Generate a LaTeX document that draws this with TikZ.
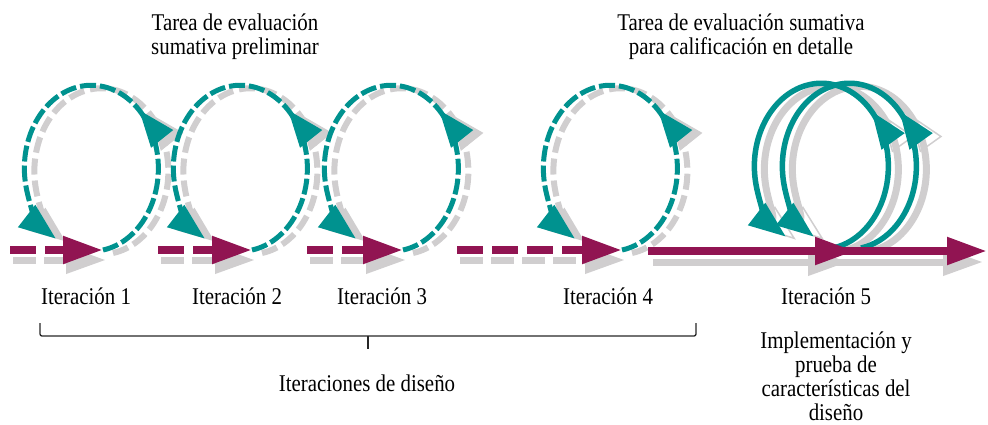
\documentclass[tikz,border=0pt]{standalone}
\usepackage{fontspec}
\setmainfont{Liberation Serif}[FakeStretch=0.87]
\usetikzlibrary{arrows.meta,decorations.markings}

\definecolor{tealc}{RGB}{0,146,143}
\definecolor{plum}{RGB}{145,20,82}
\definecolor{ashgray}{RGB}{208,206,207}

\begin{document}
\begin{tikzpicture}[x=1pt,y=1pt,
  txt/.style={inner sep=0pt,font=\fontsize{24}{24}\selectfont,align=center},
  loophead/.style={-{Triangle[length=37pt,width=27pt]}},
  loopmid/.style={postaction={decorate,decoration={markings,
      mark=at position #1 with {\arrow{Triangle[length=37pt,width=27pt]}}}}},
  loopd/.style={tealc,line width=5pt,dash pattern=on 16pt off 4pt,loophead},
  loopsh/.style={ashgray,line width=6pt,dash pattern=on 16pt off 6pt,loophead},
  loopfull/.style={tealc,line width=5.5pt,loophead},
  loopfullsh/.style={ashgray,line width=7pt,-{Triangle[open,length=37pt,width=27pt,line width=1.5pt]},
      postaction={decorate,decoration={markings,
      mark=at position #1 with {\arrow{Triangle[open,length=37pt,width=27pt,line width=1.5pt]}}}}},
  flowhead/.style={-{Triangle[length=40pt,width=26pt]}},
  flowmid/.style={postaction={decorate,decoration={markings,
      mark=at position #1 with {\arrow{Triangle[length=40pt,width=26pt]}}}}},
  flowd/.style={plum,line width=8pt,dash pattern=on 26pt off 9pt,flowhead},
  flowsh/.style={ashgray,line width=7pt,dash pattern=on 23pt off 8pt,flowhead},
  flows/.style={plum,line width=8pt,flowhead},
  flowssh/.style={ashgray,line width=7pt,flowhead},
  bracket/.style={draw=black!85,line width=1.3pt,rounded corners=2pt}]

\useasboundingbox (0,0) rectangle (988,-424);

% start and bottom points of the design iterations
\foreach \i/\sx/\bx in {1/10/103, 2/158/252, 3/307/403, 4/457/622} {
  \coordinate (s\i) at (\sx,-250);
  \coordinate (b\i) at (\bx,-250);
}
\coordinate (s5) at (648,-251);
\coordinate (e5) at (987,-251);
\coordinate (a5) at (833,-248);
\coordinate (c5) at (861,-248);

% shadows
\foreach \i in {1,...,4} {
  \draw[loopsh,loopmid=0.40] ([shift={(10,-3)}]b\i) arc[start angle=-80,end angle=238,x radius=67,y radius=83];
  \draw[flowsh] ([shift={(3,-10)}]s\i) -- ([shift={(3,-10)}]b\i);
}
\draw[loopfullsh=0.39] ([shift={(10,-3)}]a5) arc[start angle=-80,end angle=238,x radius=67,y radius=83];
\draw[loopfullsh=0.39] ([shift={(10,-3)}]c5) arc[start angle=-80,end angle=238,x radius=67,y radius=83];
\draw[flowssh,postaction={decorate,decoration={markings,
      mark=at position 195pt with {\arrow{Triangle[length=40pt,width=26pt]}}}}]
  ([shift={(5,-11)}]s5) -- ([shift={(-4,-11)}]e5);

% loops
\foreach \i in {1,...,4}
  \draw[loopd,loopmid=0.40] (b\i) arc[start angle=-80,end angle=238,x radius=67,y radius=83];
\draw[loopfull,loopmid=0.39] (a5) arc[start angle=-80,end angle=238,x radius=67,y radius=83];
\draw[loopfull,loopmid=0.39] (c5) arc[start angle=-80,end angle=238,x radius=67,y radius=83];

% main flow
\foreach \i in {1,...,4}
  \draw[flowd] (s\i) -- (b\i);
\draw[flows,flowmid=207pt] (s5) -- (e5);

% labels
\node[txt] (task1) at (235,-37) {Tarea de evaluación\\sumativa preliminar};
\node[txt] (task2) at (741,-37) {Tarea de evaluación sumativa\\para calificación en detalle};

\node[txt,anchor=base] (it1) at (86,-304)  {Iteración 1};
\node[txt,anchor=base] (it2) at (237,-304) {Iteración 2};
\node[txt,anchor=base] (it3) at (382,-304) {Iteración 3};
\node[txt,anchor=base] (it4) at (608,-304) {Iteración 4};
\node[txt,anchor=base] (it5) at (826,-304) {Iteración 5};

\coordinate (bl) at (40,-323);
\coordinate (br) at (696,-323);
\coordinate (bm) at (368,-336);
\coordinate (bt) at (368,-349);
\draw[bracket] (bl) |- (bm) -| (br);
\draw[bracket] (bm) -- (bt);

\node[txt,anchor=base] (design) at (367,-391) {Iteraciones de diseño};
\node[txt] (impl) at (836,-376) {Implementación y\\prueba de\\características del\\diseño};

\end{tikzpicture}
\end{document}
